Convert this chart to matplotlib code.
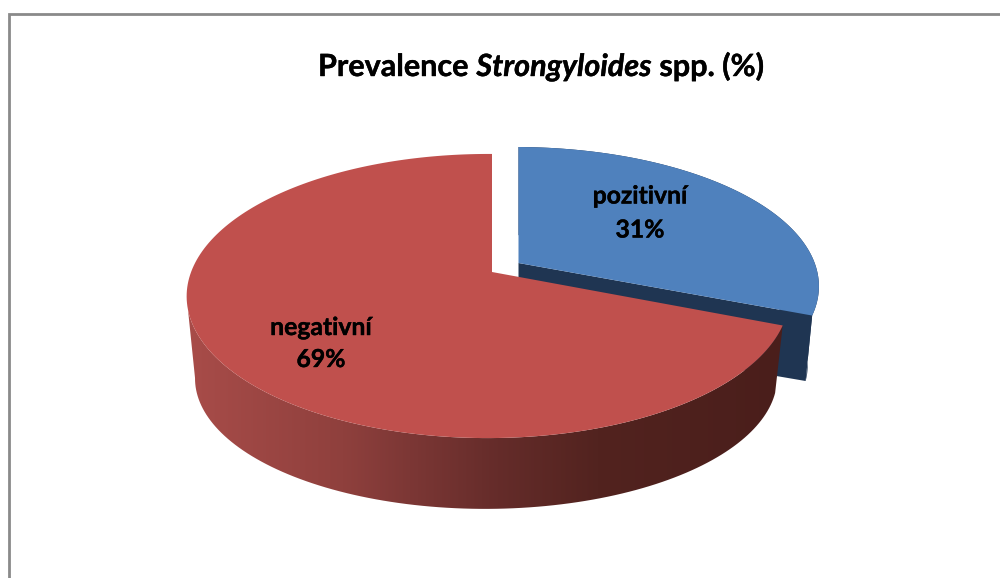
import numpy as np
import matplotlib
matplotlib.use("Agg")
import matplotlib.pyplot as plt
import matplotlib.patheffects as pe
from matplotlib.colors import LinearSegmentedColormap
from matplotlib.patches import Polygon

title_parts = ["Prevalence", "Strongyloides", "spp. (%)"]
title_styles = ["normal", "italic", "normal"]
categories = ["pozitivní", "negativní"]
values = [31, 69]
top_colors = ["#4F81BD", "#C0504D"]
side_color = "#1F3552"

K = 0.169
M = 0.013
K_LOW = 0.26


def rim(f0, f1, cx, cy, a, b, k, n=200):
    # fraction of the pie (clockwise from 12 o'clock) -> pixel, with perspective
    t = np.linspace(f0, f1, n) * 2 * np.pi
    u, v = np.sin(t), np.cos(t)
    w = 1 + k * v + M * u
    return cx + b * u / w, cy - a * v / w


fig = plt.figure(figsize=(10, 5.78), dpi=100)
ax = fig.add_axes([0, 0, 1, 1])
ax.axis("off")

# chart frame, only left and top are in the picture
ax.plot([8.5, 8.5, 1000], [578, 14, 14], color="#8A8A8A", lw=2, solid_joinstyle="miter")

frac = values[0] / sum(values)

# blue slice, pulled out, drawn first since red covers it
bx, by = rim(0, frac, 518.5, 263, 135.6, 300, K)
lx, ly = rim(0, frac, 518.5, 332, 122, 283, K_LOW)
ax.fill(np.r_[bx, lx[::-1]], np.r_[by, ly[::-1]], color=side_color, lw=0)
ax.fill([bx[-1], 518.5, 518.5, lx[-1]], [by[-1], 263, 332, ly[-1]], color=side_color, lw=0)
ax.fill(np.r_[518.5, bx], np.r_[263, by], color=top_colors[0], lw=0)

# red slice, side shaded left to right, only the front part of the rim shows
rx, ry = rim(frac, 1, 492, 272, 138, 297, K)
qx, qy = rim(frac, 1, 490, 344, 122, 281, K_LOW)
end_top = np.argmin(rx) + 1
end_low = np.argmin(qx) + 1
outline = np.c_[np.r_[rx[:end_top], qx[:end_low][::-1]], np.r_[ry[:end_top], qy[:end_low][::-1]]]
shade = LinearSegmentedColormap.from_list(
    "side",
    [(0, "#A84C49"), (0.26, "#8F403D"), (0.36, "#7E3836"), (0.52, "#652C2A"), (0.69, "#52231F"), (1, "#4A1E1B")],
)
side = Polygon(outline, closed=True, fc="none", ec="none")
ax.add_patch(side)
gradient = np.linspace(0, 1, 256).reshape(1, -1)
im = ax.imshow(gradient, cmap=shade, extent=[188, 783, 520, 250], aspect="auto", interpolation="bilinear", zorder=1.5)
im.set_clip_path(side)
ax.fill(np.r_[492, rx], np.r_[272, ry], color=top_colors[1], lw=0, zorder=2)

ax.set_xlim(0, 1000)
ax.set_ylim(578, 0)

# labels
font = "Lato"
heavy = [pe.withStroke(linewidth=0.3, foreground="black")]
label_pos = [(640, 203.5, 237.5), (321, 335, 367)]
for cat, val, (x, y1, y2) in zip(categories, values, label_pos):
    ax.text(x, y1, cat, family=font, weight="bold", fontsize=17.8, ha="center", va="baseline", color="black", path_effects=heavy)
    ax.text(x, y2, f"{val}%", family=font, weight="bold", fontsize=17.8, ha="center", va="baseline", color="black", path_effects=heavy)

# title in three pieces because of the italic genus name
renderer = fig.canvas.get_renderer()
x = 318
for part, style in zip(title_parts, title_styles):
    t = ax.text(x, 76, part, family=font, weight="bold", style=style, fontsize=22, ha="left", va="baseline", color="black", path_effects=heavy)
    x += t.get_window_extent(renderer).width + 8

fig.savefig("out.png", dpi=100, facecolor="white")
